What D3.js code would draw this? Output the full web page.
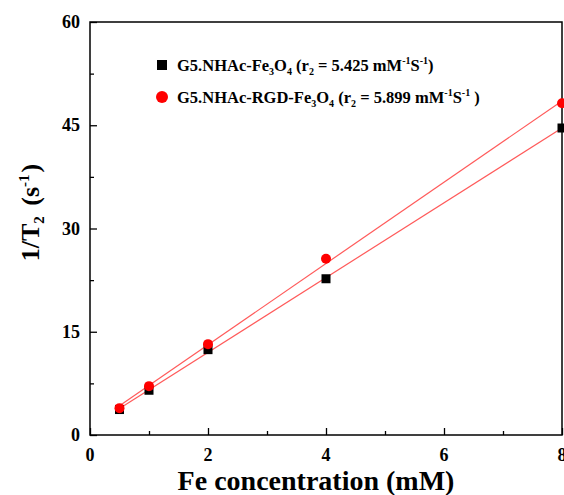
<!DOCTYPE html>
<html>
<head>
<meta charset="utf-8">
<script src="https://cdn.jsdelivr.net/npm/d3@7"></script>
<style>
  body { margin: 0; background: #fff; }
  text { font-family: "Liberation Serif", "Times New Roman", serif; font-weight: bold; }
</style>
</head>
<body>
<div id="chart"></div>
<script>
// Fe concentration (mM)
var conc = [0.5, 1, 2, 4, 8];
// 1/T2 values
var plainVals = [3.7, 6.5, 12.4, 22.7, 44.6];
var rgdVals = [3.9, 7.1, 13.2, 25.6, 48.2];
var xTicks = [0, 2, 4, 6, 8];
var yTicks = [0, 15, 30, 45, 60];

var margin = {top: 22, right: 2, bottom: 60, left: 90},
    width = 564 - margin.left - margin.right,
    height = 495 - margin.top - margin.bottom;

var svg = d3.select("#chart").append("svg")
    .attr("width", 564)
    .attr("height", 495)
  .append("g")
    .attr("transform", "translate(" + margin.left + "," + margin.top + ")");

var x = d3.scaleLinear().domain([0, 8]).range([0, width]);
var y = d3.scaleLinear().domain([0, 60]).range([height, 0]);

// least squares fit for the red lines
function fit(xs, ys) {
  var mx = d3.mean(xs), my = d3.mean(ys);
  var num = d3.sum(xs, (v, i) => (v - mx) * (ys[i] - my));
  var den = d3.sum(xs, v => (v - mx) * (v - mx));
  var b = num / den;
  return {b: b, a: my - b * mx};
}

// axes, ticks pointing inward
svg.append("g")
    .attr("transform", "translate(0," + height + ")")
    .call(d3.axisBottom(x).tickValues(d3.range(0, 9, 1)).tickSize(-4).tickFormat(""))
    .call(g => g.selectAll(".tick line").filter(d => d % 2 == 0).attr("y2", -7))
    .call(g => g.select(".domain").remove());
svg.append("g")
    .call(d3.axisLeft(y).tickValues(d3.range(0, 61, 7.5)).tickSize(-4).tickFormat(""))
    .call(g => g.selectAll(".tick line").filter(d => d % 15 == 0).attr("x2", 7))
    .call(g => g.select(".domain").remove());
svg.selectAll(".tick line").attr("stroke", "#000").attr("stroke-width", 1.3);

svg.selectAll(".xlab").data(xTicks).enter().append("text")
    .attr("x", d => x(d))
    .attr("y", height + 26)
    .attr("text-anchor", "middle")
    .style("font-size", "18px")
    .text(d => d);
svg.selectAll(".ylab").data(yTicks).enter().append("text")
    .attr("x", -10)
    .attr("y", d => y(d) + 6)
    .attr("text-anchor", "end")
    .style("font-size", "18px")
    .text(d => d);

// frame
svg.append("rect")
    .attr("width", width)
    .attr("height", height)
    .attr("fill", "none")
    .attr("stroke", "#000")
    .attr("stroke-width", 1.5);

// fit lines
[plainVals, rgdVals].forEach(function(vals) {
  var f = fit(conc, vals);
  svg.append("line")
      .attr("x1", x(conc[0])).attr("y1", y(f.a + f.b * conc[0]))
      .attr("x2", x(conc[conc.length - 1])).attr("y2", y(f.a + f.b * conc[conc.length - 1]))
      .attr("stroke", "#ff5a5a")
      .attr("stroke-width", 1.2);
});

// points
svg.selectAll(".sq").data(conc).enter().append("rect")
    .attr("x", d => x(d) - 4.5)
    .attr("y", (d, i) => y(plainVals[i]) - 4.5)
    .attr("width", 9).attr("height", 9)
    .attr("fill", "#000");
svg.selectAll(".dot").data(conc).enter().append("circle")
    .attr("cx", d => x(d))
    .attr("cy", (d, i) => y(rgdVals[i]))
    .attr("r", 5)
    .attr("fill", "#ff0000");

// legend
var lg = svg.append("g").attr("transform", "translate(72,43)");
lg.append("rect").attr("x", -5).attr("y", -5).attr("width", 10).attr("height", 10).attr("fill", "#000");
lg.append("circle").attr("cx", 0).attr("cy", 32).attr("r", 6).attr("fill", "#ff0000");

function legendText(yy, parts) {
  var txt = lg.append("text").attr("x", 15).attr("y", yy).style("font-size", "16.5px");
  parts.forEach(function(p) {
    var s = txt.append("tspan").text(p[0]);
    if (p[1] == "sub") s.attr("dy", 4).style("font-size", "10px");
    else if (p[1] == "sup") s.attr("dy", -7).style("font-size", "10px");
    if (p[2]) s.attr("dy", p[2]);
  });
}
legendText(6, [["G5.NHAc-Fe"], ["3", "sub"], ["O", null, -4], ["4", "sub"], [" (r", null, -4], ["2", "sub"],
  [" = 5.425 mM", null, -4], ["-1", "sup"], ["S", null, 7], ["-1", "sup"], [")", null, 7]]);
legendText(38, [["G5.NHAc-RGD-Fe"], ["3", "sub"], ["O", null, -4], ["4", "sub"], [" (r", null, -4], ["2", "sub"],
  [" = 5.899 mM", null, -4], ["-1", "sup"], ["S", null, 7], ["-1", "sup"], [" )", null, 7]]);

// axis titles
svg.append("text")
    .attr("x", 226)
    .attr("y", height + 55)
    .attr("text-anchor", "middle")
    .style("font-size", "28px")
    .text("Fe concentration (mM)");

var yt = svg.append("text")
    .attr("transform", "translate(-51," + (height / 2 - 16) + ")rotate(-90)")
    .attr("text-anchor", "middle")
    .style("font-size", "26px");
yt.append("tspan").text("1/T");
yt.append("tspan").attr("dy", 5).style("font-size", "15px").text("2");
yt.append("tspan").attr("dy", -5).attr("dx", 4).text(" (s");
yt.append("tspan").attr("dy", -10).style("font-size", "15px").text("-1");
yt.append("tspan").attr("dy", 10).attr("dx", 2).text(")");
</script>
</body>
</html>
